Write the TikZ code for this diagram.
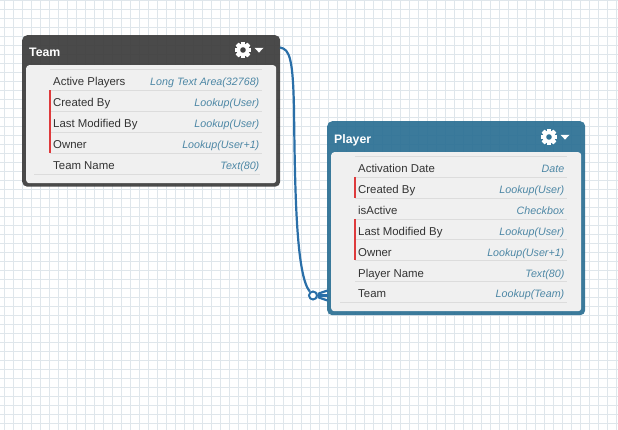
\documentclass[tikz,border=0pt]{standalone}
\usepackage{fontspec}
\setmainfont{Liberation Sans}
\usetikzlibrary{positioning}
\definecolor{gridcol}{HTML}{DFE6EB}
\definecolor{teamcol}{HTML}{404040}
\definecolor{playercol}{HTML}{307396}
\definecolor{bodycol}{HTML}{F0F0F0}
\definecolor{rulecol}{HTML}{DCDCDC}
\definecolor{namecol}{HTML}{333333}
\definecolor{typecol}{HTML}{4D87A5}
\definecolor{barcol}{HTML}{DE3A3C}
\definecolor{linkcol}{HTML}{2A6FA8}
\tikzset{
  card/.style={fill=#1,fill opacity=0.95,rounded corners=5pt,inner sep=0pt,anchor=north west},
  cardbody/.style={fill=bodycol,rounded corners=3pt,inner sep=0pt,anchor=north west},
  cardtitle/.style={text=white,font=\fontsize{12.3}{14}\selectfont\bfseries,inner sep=0pt,anchor=base west},
  fieldname/.style={text=namecol,font=\fontsize{11.4}{14}\selectfont,inner sep=0pt,anchor=base west},
  fieldtype/.style={text=typecol,font=\fontsize{10.7}{14}\selectfont\itshape,inner sep=0pt,anchor=base east},
  rowrule/.style={draw=rulecol,line width=1pt},
  redbar/.style={draw=barcol,line width=2.4pt},
  link/.style={draw=linkcol,line width=2.2pt},
  crowcircle/.style={circle,draw=linkcol,line width=2pt,fill=white,minimum size=8pt,inner sep=0pt}
}
% gear with its menu arrow, #1 centre, #2 hole colour
\newcommand{\gearicon}[3]{%
  \foreach \a in {0,45,...,315}
    \fill[white,rotate around={\a:(#1,#2)}] (#1-2,#2-8.2) rectangle (#1+2,#2+8.2);
  \fill[white] (#1,#2) circle (6.3);
  \fill[#3] (#1,#2) circle (2.8);
  \fill[white] (#1+11.5,#2-2.2) -- (#1+20.5,#2-2.2) -- (#1+16,#2+2.6) -- cycle;
}
\begin{document}
\begin{tikzpicture}[x=1pt,y=-1pt]
  \useasboundingbox (0,0) rectangle (618,430);
  % background grid
  \foreach \x in {4.5,13.5,...,618}
    \draw[gridcol,line width=1.5pt] (\x,0) -- (\x,430);
  \foreach \y in {0.5,9.5,...,430}
    \draw[gridcol,line width=1.5pt] (0,\y) -- (618,\y);

  % team card
  \node[card=teamcol,minimum width=258pt,minimum height=151.5pt] (team) at (22,35) {};
  \node[cardbody,minimum width=250pt,minimum height=118pt] (teambody) at (26,65) {};
  \node[cardtitle] (teamtitle) at (29,57) {Team};
  \gearicon{243}{50}{teamcol}
  \draw[rowrule] (50,69.5) -- (262,69.5);
  \draw[rowrule] (50,90.5) -- (262,90.5);
  \draw[rowrule] (50,111.5) -- (262,111.5);
  \draw[rowrule] (50,132.5) -- (262,132.5);
  \draw[rowrule] (50,153.5) -- (262,153.5);
  \draw[rowrule] (34,174.5) -- (260,174.5);
  \draw[redbar] (50,90.5) -- (50,153);
  \node[fieldname] (t1) at (53,86) {Active Players};
  \node[fieldname] (t2) at (53,107) {Created By};
  \node[fieldname] (t3) at (53,128) {Last Modified By};
  \node[fieldname] (t4) at (53,149) {Owner};
  \node[fieldname] (t5) at (53,170) {Team Name};
  \node[fieldtype] (t1type) at (259.5,86) {Long Text Area(32768)};
  \node[fieldtype] (t2type) at (259.5,107) {Lookup(User)};
  \node[fieldtype] (t3type) at (259.5,128) {Lookup(User)};
  \node[fieldtype] (t4type) at (259.5,149) {Lookup(User+1)};
  \node[fieldtype] (t5type) at (259.5,170) {Text(80)};

  % player card
  \node[card=playercol,minimum width=258pt,minimum height=194pt] (player) at (327,121) {};
  \node[cardbody,minimum width=250pt,minimum height=159pt] (playerbody) at (331,152) {};
  \node[cardtitle] (playertitle) at (334,144) {Player};
  \gearicon{549}{137}{playercol}
  \draw[rowrule] (355,156.5) -- (567,156.5);
  \draw[rowrule] (355,177.5) -- (567,177.5);
  \draw[rowrule] (355,198.5) -- (567,198.5);
  \draw[rowrule] (355,219.5) -- (567,219.5);
  \draw[rowrule] (355,239.5) -- (567,239.5);
  \draw[rowrule] (355,260.5) -- (567,260.5);
  \draw[rowrule] (355,281.5) -- (567,281.5);
  \draw[rowrule] (340,302.5) -- (567,302.5);
  \draw[redbar] (355,177) -- (355,198);
  \draw[redbar] (355,219) -- (355,260);
  \node[fieldname] (p1) at (358,173) {Activation Date};
  \node[fieldname] (p2) at (358,194) {Created By};
  \node[fieldname] (p3) at (358,215) {isActive};
  \node[fieldname] (p4) at (358,236) {Last Modified By};
  \node[fieldname] (p5) at (358,257) {Owner};
  \node[fieldname] (p6) at (358,277) {Player Name};
  \node[fieldname] (p7) at (358,297) {Team};
  \node[fieldtype] (p1type) at (564.5,173) {Date};
  \node[fieldtype] (p2type) at (564.5,194) {Lookup(User)};
  \node[fieldtype] (p3type) at (564.5,215) {Checkbox};
  \node[fieldtype] (p4type) at (564.5,236) {Lookup(User)};
  \node[fieldtype] (p5type) at (564.5,257) {Lookup(User+1)};
  \node[fieldtype] (p6type) at (564.5,277) {Text(80)};
  \node[fieldtype] (p7type) at (564.5,297) {Lookup(Team)};

  % relationship
  \coordinate (teamout) at (280,47.5);
  \coordinate (crowtop) at (327.5,290.5);
  \coordinate (crowmid) at (327.5,295.5);
  \coordinate (crowbot) at (327.5,300.5);
  \node[crowcircle] (crow) at (313,295.5) {};
  \draw[link] (teamout) .. controls (290,49) and (293,60) .. (294,110)
    .. controls (295,190) and (296,275) .. (crow);
  \draw[link] (crow) -- (crowtop);
  \draw[link] (crow) -- (crowmid);
  \draw[link] (crow) -- (crowbot);
\end{tikzpicture}
\end{document}
